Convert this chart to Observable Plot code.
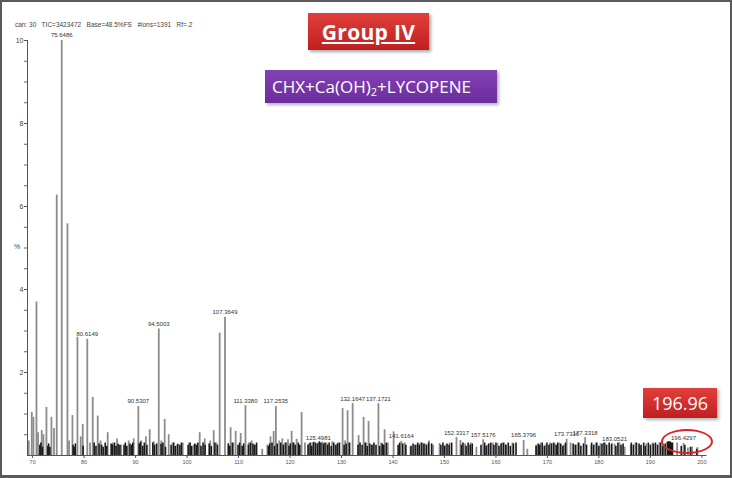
<!DOCTYPE html>
<html><head><meta charset="utf-8">
<script src="https://cdn.jsdelivr.net/npm/d3@7"></script>
<script src="https://cdn.jsdelivr.net/npm/@observablehq/plot@0.6"></script>
<style>
html,body{margin:0;padding:0;background:#fff;}
#wrap{position:relative;width:732px;height:478px;overflow:hidden;font-family:"Liberation Sans",Arial,sans-serif;background:#fff;}
#chart{position:absolute;left:0;top:0;}
.border{position:absolute;left:0;top:0;width:732px;height:478px;box-sizing:border-box;border:2px solid #5a5a5a;border-bottom-width:3px;pointer-events:none;}
.hdr{position:absolute;left:15px;top:21px;font-size:6.5px;color:#444;white-space:pre;}
.pct{position:absolute;left:14px;top:243px;font-size:7px;color:#444;}
.group{position:absolute;left:308px;top:13px;width:121px;height:37px;background:linear-gradient(#e0403b,#bf1f1f);box-shadow:2px 2px 3px rgba(0,0,0,.35);color:#fff;font:bold 21px "Open Sans",sans-serif;text-decoration:underline;text-underline-offset:2px;display:flex;align-items:center;justify-content:center;letter-spacing:0.3px;}
.purple{position:absolute;left:265px;top:70px;width:232px;height:33px;background:linear-gradient(#8242b4,#6c2c9c);box-shadow:2px 2px 3px rgba(0,0,0,.3);color:#fff;font:17px "Open Sans",sans-serif;display:flex;align-items:center;padding-left:7px;box-sizing:border-box;white-space:pre;}
.purple .sub{font-size:11px;position:relative;top:5px;}
.callout{position:absolute;left:643px;top:388px;width:74px;height:30px;background:linear-gradient(#e0403b,#bf1f1f);box-shadow:2px 2px 3px rgba(0,0,0,.3);color:#fff;font:18px "Open Sans",sans-serif;display:flex;align-items:center;justify-content:center;}
.ellipse{position:absolute;left:661px;top:429px;width:52px;height:25px;border:2.5px solid #d8232a;border-radius:50%;box-sizing:border-box;}
</style></head>
<body>
<div id="wrap">
  <div id="chart"></div>
  <div class="hdr">can: 30   TIC=3423472   Base=48.5%FS   #ions=1391   Rf=.2</div>
  <div class="pct">%</div>
  <div class="group">Group IV</div>
  <div class="purple">CHX+Ca(OH)<span class="sub">2</span>+LYCOPENE</div>
  <div class="ellipse"></div>
  <div class="callout">196.96</div>
  <div class="border"></div>
</div>
<script>
// Main (gray) peaks: m/z and relative intensity
const peakMz = [69.24,69.83,70.15,70.74,71.05,71.77,72.10,72.68,73.65,74.15,74.68,75.6486,76.76,77.07,77.73,78.70,79.34,79.73,80.6149,81.15,81.67,82.64,83.2,84.58,85.6,86.4,87.2,88.66,89.63,90.5307,91.1,92.0,92.74,93.51,94.5003,95.0,95.65,96.43,97.2,98.0,99.15,100.4,101.3,102.45,103.42,104.5,105.17,105.7,106.33,107.3649,108.46,109.0,109.44,110.41,111.3380,112.0,112.54,113.3,114.6,115.6,116.2,116.82,117.2535,117.9,118.5,119.0,119.6,120.31,120.8,121.28,122.25,122.9,123.6,124.3,125.4981,126.3,127.1,128.2,129.3,130.21,130.7,131.18,131.6,132.1647,133.32,134.29,134.8,135.26,136.0,137.1721,137.7,138.37,139.0,140.12,141.6164,142.3,143.4,144.5,145.3,146.2,147.0,147.8,149.05,150.2,151.0,152.3317,153.1,154.0,155.1,156.2,157.5176,158.3,159.4,160.31,161.2,162.0,163.2,165.3796,166.1,167.8,168.7,169.6,170.5,171.4,172.3,173.2,173.7316,174.5,175.3,176.2,177.3318,178.5,179.4,180.3,181.2,182.1,183.0521,184.0,185.0,186.2,187.1,188.0,189.2,190.4,191.77,192.6,193.8,195.2,196.4297,197.3,198.1,199.15];
const peakInt = [0.35,1.04,0.92,3.7,0.55,0.6,0.5,1.16,0.92,0.65,6.28,10,5.58,0.35,0.96,2.85,0.45,0.75,2.8,0.3,1.4,0.95,0.35,0.55,0.3,0.4,0.25,0.35,0.4,1.18,0.35,0.45,0.62,0.33,3.05,0.35,0.87,0.5,0.3,0.25,0.3,0.3,0.25,0.55,0.4,0.35,0.6,0.3,2.95,3.33,0.67,0.3,0.58,0.53,1.2,0.3,0.35,0.25,0.15,0.25,0.45,0.58,1.18,0.35,0.4,0.3,0.38,0.58,0.3,0.39,1.04,0.3,0.28,0.3,0.3,0.32,0.3,0.33,0.3,1.13,0.35,1.08,0.3,1.25,0.48,0.92,0.3,0.82,0.25,1.25,0.3,0.62,0.3,0.57,0.34,0.3,0.2,0.25,0.3,0.28,0.35,0.25,0.29,0.25,0.3,0.43,0.36,0.28,0.3,0.2,0.38,0.25,0.3,0.29,0.3,0.25,0.3,0.36,0.15,0.25,0.3,0.25,0.3,0.28,0.3,0.25,0.39,0.3,0.25,0.3,0.43,0.25,0.3,0.28,0.3,0.25,0.27,0.3,0.2,0.25,0.3,0.22,0.28,0.3,0.31,0.25,0.2,0.3,0.29,0.18,0.2,0.19];

// Dense low-level (black) peaks
const noiseMz = [71.4,71.6,71.9,72.95,73.1,73.35,77.85,78.1,78.3,79.8,81.95,82.3,82.9,83.4,83.7,84.1,84.4,85.25,85.5,85.9,86.2,86.6,86.95,87.75,88.0,88.3,88.9,89.2,89.45,90.7,90.95,91.4,91.7,92.2,93.35,93.7,94.1,94.95,95.3,95.8,96.9,97.4,97.7,98.2,98.6,98.9,100.2,100.6,100.9,101.5,101.8,102.1,102.7,103.1,103.5,104.3,104.7,105.4,105.9,108.0,108.3,108.8,109.9,110.2,110.7,111.0,111.9,112.3,112.8,113.1,113.5,115.8,116.05,116.5,117.0,117.5,118.2,118.7,119.2,119.8,120.05,120.6,121.0,121.6,121.9,123.5,123.9,124.2,124.6,124.95,125.3,125.7,126.0,126.5,126.8,127.3,127.6,128.0,128.5,128.9,129.2,129.6,130.5,130.9,131.5,133.2,133.6,134.0,134.6,135.0,135.5,135.9,136.3,136.7,137.4,137.9,138.2,138.7,141.0,141.3,141.9,142.5,143.5,143.9,144.3,144.8,145.1,145.6,146.0,146.5,146.9,147.5,149.3,149.7,150.0,150.5,150.9,151.4,153.3,153.6,154.2,154.6,155.0,155.4,157.1,157.8,158.1,158.6,159.0,159.6,160.0,160.6,161.0,161.5,161.9,162.4,162.8,163.4,163.9,167.8,168.2,168.5,169.0,169.4,169.9,170.3,170.8,171.2,171.7,172.0,172.6,173.0,173.5,175.0,175.5,176.0,176.5,177.0,177.6,178.6,179.0,179.6,180.0,180.6,181.0,181.5,182.0,182.5,183.3,183.7,184.3,184.7,186.3,186.7,187.3,187.8,188.2,188.7,189.0,189.6,190.0,190.6,191.0,191.4,192.0,192.4,192.9,193.3,193.5,193.7,193.9,194.1,194.3,196.0,196.7,197.8,199.0];
const noiseInt = [0.25,0.3,0.2,0.22,0.28,0.2,0.25,0.2,0.28,0.22,0.3,0.22,0.28,0.25,0.2,0.3,0.22,0.28,0.25,0.3,0.22,0.27,0.25,0.25,0.3,0.22,0.28,0.25,0.3,0.28,0.32,0.22,0.3,0.25,0.3,0.25,0.28,0.27,0.3,0.2,0.25,0.3,0.22,0.27,0.25,0.3,0.25,0.3,0.22,0.28,0.25,0.3,0.22,0.3,0.25,0.28,0.22,0.3,0.25,0.28,0.22,0.3,0.25,0.3,0.22,0.28,0.25,0.3,0.28,0.25,0.3,0.22,0.28,0.3,0.22,0.28,0.3,0.25,0.3,0.22,0.28,0.3,0.25,0.3,0.25,0.25,0.3,0.22,0.32,0.3,0.28,0.33,0.3,0.28,0.3,0.25,0.3,0.22,0.3,0.25,0.28,0.3,0.25,0.28,0.3,0.25,0.3,0.25,0.3,0.22,0.28,0.25,0.3,0.25,0.22,0.28,0.25,0.3,0.25,0.3,0.28,0.25,0.22,0.28,0.25,0.3,0.25,0.3,0.28,0.25,0.3,0.28,0.25,0.3,0.22,0.28,0.25,0.3,0.25,0.3,0.22,0.3,0.25,0.28,0.25,0.3,0.22,0.28,0.3,0.25,0.3,0.22,0.28,0.3,0.25,0.3,0.22,0.28,0.3,0.22,0.28,0.25,0.3,0.22,0.3,0.25,0.28,0.3,0.25,0.3,0.28,0.22,0.3,0.28,0.25,0.3,0.22,0.28,0.25,0.3,0.25,0.3,0.22,0.28,0.3,0.25,0.3,0.28,0.22,0.3,0.25,0.28,0.3,0.25,0.3,0.28,0.25,0.3,0.22,0.3,0.25,0.28,0.3,0.25,0.3,0.22,0.28,0.32,0.33,0.33,0.32,0.3,0.3,0.22,0.25,0.2,0.15];

// Labelled peaks
const labelMz = [75.6486,80.6149,90.5307,94.5003,107.3649,111.3380,117.2535,125.4981,132.1647,137.1721,141.6164,152.3317,157.5176,165.3796,173.7316,177.3318,183.0521,196.4297];

// Axis ticks
const xTicks = [70,80,90,100,110,120,130,140,150,160,170,180,190,200];
const yTicks = [2,4,6,8,10];
const yMinor = [0.5,1,1.5,2,2.5,3,3.5,4,4.5,5,5.5,6,6.5,7,7.5,8,8.5,9,9.5,10];

const peaks = peakMz.map((m,i)=>({mz:m, v:peakInt[i]}));
const noise = noiseMz.map((m,i)=>({mz:m, v:noiseInt[i]}));
const labels = labelMz.map(m=>({mz:m, v:peakInt[peakMz.indexOf(m)], t:m.toFixed(4)}));

const chart = Plot.plot({
  width:732, height:478,
  marginLeft:27, marginRight:25.5, marginTop:40, marginBottom:23,
  x:{domain:[69,201], label:null},
  y:{domain:[0,10], label:null},
  style:{background:"transparent", fontFamily:"Liberation Sans, Arial, sans-serif"},
  marks:[
    Plot.ruleX(peaks, {x:"mz", y1:0, y2:"v", stroke:"#8c8c8c", strokeWidth:1.8}),
    Plot.ruleX(noise, {x:"mz", y1:0, y2:"v", stroke:"#1a1a1a", strokeWidth:1.6}),
    Plot.ruleY([0], {stroke:"#555", strokeWidth:1}),
    Plot.ruleX([69], {y1:0, y2:10, stroke:"#555", strokeWidth:1}),
    Plot.axisY({ticks:yMinor, tickSize:3, tickFormat:()=>"", stroke:"#666", label:null}),
    Plot.axisY({ticks:yTicks, tickSize:3, tickPadding:1, fontSize:7, fill:"#444", stroke:"#555", label:null}),
    Plot.axisX({ticks:xTicks, tickSize:3, tickPadding:2, fontSize:5.5, fill:"#555", stroke:"#555", label:null}),
    Plot.text(labels, {x:"mz", y:"v", text:"t", dy:-5, fontSize:6, fill:"#333"})
  ]
});
document.getElementById("chart").appendChild(chart);
</script>
</body></html>
